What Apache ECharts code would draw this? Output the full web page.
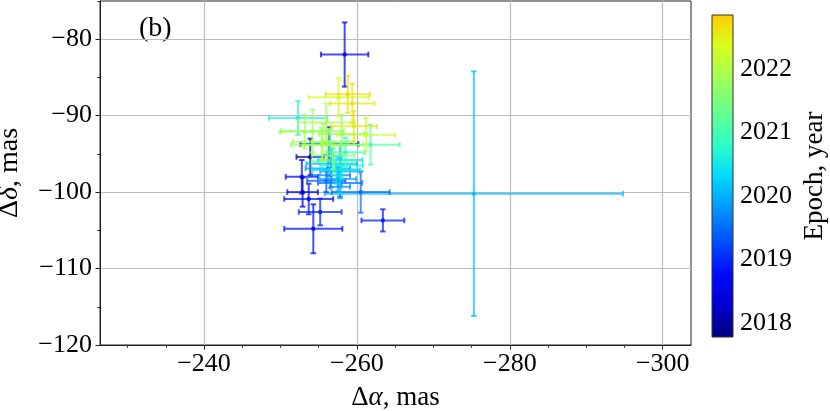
<!DOCTYPE html>
<html>
<head>
<meta charset="utf-8">
<script src="https://cdn.jsdelivr.net/npm/echarts@6/dist/echarts.min.js"></script>
<style>
  html, body { margin: 0; padding: 0; background: #fff; }
  #main { width: 830px; height: 411px; }
</style>
</head>
<body>
<div id="main"></div>
<script>
// measurements: [dRA, dDec, errRA, errDec, epoch]
var points = [
    [-258.4, -82.0, 3.1, 4.2, 2018.5],
    [-275.3, -100.2, 19.5, 16.0, 2020.1],
    [-263.4, -103.7, 2.8, 1.45, 2018.9],
    [-260.5, -100.0, 3.8, 2.7, 2019.5],
    [-253.9, -95.4, 1.8, 2.4, 2018.0],
    [-256.4, -93.7, 3.8, 2.2, 2018.4],
    [-252.8, -98.0, 2.1, 2.2, 2018.7],
    [-252.9, -100.0, 2.0, 1.9, 2018.3],
    [-253.7, -100.9, 3.2, 2.0, 2018.8],
    [-255.2, -102.6, 2.8, 1.75, 2019.0],
    [-254.3, -104.8, 3.8, 3.2, 2018.8],
    [-256.0, -98.5, 2.5, 1.5, 2019.3],
    [-257.8, -98.8, 2.9, 1.8, 2019.5],
    [-256.6, -97.8, 2.5, 1.6, 2019.6],
    [-257.8, -99.3, 1.3, 1.5, 2019.7],
    [-256.2, -96.9, 2.9, 1.8, 2019.8],
    [-257.8, -97.3, 2.6, 1.8, 2019.9],
    [-257.5, -98.3, 2.4, 1.6, 2019.9],
    [-256.7, -96.3, 3.3, 2.0, 2020.0],
    [-257.8, -95.8, 2.9, 2.0, 2020.3],
    [-257.8, -97.0, 2.2, 3.2, 2020.4],
    [-257.3, -97.1, 3.1, 1.8, 2020.4],
    [-258.0, -96.5, 2.8, 1.6, 2020.6],
    [-252.3, -90.3, 3.8, 2.2, 2020.7],
    [-258.5, -94.8, 2.5, 1.9, 2020.8],
    [-256.5, -93.5, 2.4, 1.8, 2021.0],
    [-261.8, -93.8, 3.8, 2.6, 2021.1],
    [-256.9, -96.0, 2.8, 1.7, 2021.2],
    [-256.9, -95.2, 2.8, 1.8, 2021.5],
    [-258.0, -92.4, 3.0, 2.5, 2021.6],
    [-255.4, -93.8, 2.5, 2.2, 2021.7],
    [-254.2, -92.0, 4.1, 2.8, 2021.8],
    [-256.1, -93.8, 4.7, 2.0, 2021.8],
    [-253.2, -92.1, 3.3, 2.2, 2021.8],
    [-256.0, -90.9, 3.7, 2.5, 2021.9],
    [-255.6, -93.4, 4.0, 2.3, 2021.9],
    [-261.2, -92.5, 3.8, 2.2, 2022.2],
    [-257.6, -87.6, 3.9, 2.5, 2022.3],
    [-259.6, -91.4, 3.0, 2.0, 2022.6],
    [-259.4, -88.4, 2.9, 2.6, 2022.6],
    [-258.8, -87.2, 2.9, 2.4, 2022.7]
];

var xRange = [-303.7, -226.4];
var yRange = [-120, -75];
var epochRange = [2017.78, 2022.85];

var xTicks = [-240, -260, -280, -300];
var xMinorTicks = [-230, -235, -245, -250, -255, -265, -270, -275, -285, -290, -295];
var yTicks = [-120, -110, -100, -90, -80];
var yMinorTicks = [-115, -105, -95, -85, -75];
var epochTicks = [2018, 2019, 2020, 2021, 2022];

// jet, cut at ~0.68
var jetColors = ['#000080', '#0000ce', '#000bff', '#0051ff', '#0096ff', '#00dbff',
                 '#30ffc7', '#67ff8f', '#a0ff57', '#d7ff1f', '#ffcc00'];

var FONT = '"Liberation Serif", "DejaVu Serif", serif';

function minus(v) {
    return String(v).replace('-', '\u2212');
}

function renderErrorBar(params, api) {
    var x = api.value(0), y = api.value(1), ex = api.value(2), ey = api.value(3);
    var c = api.coord([x, y]);
    var l = api.coord([x - ex, y]);
    var r = api.coord([x + ex, y]);
    var t = api.coord([x, y + ey]);
    var b = api.coord([x, y - ey]);
    var color = api.visual('color');
    var cap = 2.8;
    var st = { stroke: color, lineWidth: 2, opacity: 0.72 };
    return {
        type: 'group',
        children: [
            { type: 'line', shape: { x1: l[0], y1: l[1], x2: r[0], y2: r[1] }, style: st },
            { type: 'line', shape: { x1: t[0], y1: t[1], x2: b[0], y2: b[1] }, style: st },
            { type: 'line', shape: { x1: l[0], y1: l[1] - cap, x2: l[0], y2: l[1] + cap }, style: st },
            { type: 'line', shape: { x1: r[0], y1: r[1] - cap, x2: r[0], y2: r[1] + cap }, style: st },
            { type: 'line', shape: { x1: t[0] - cap, y1: t[1], x2: t[0] + cap, y2: t[1] }, style: st },
            { type: 'line', shape: { x1: b[0] - cap, y1: b[1], x2: b[0] + cap, y2: b[1] }, style: st },
            { type: 'circle', shape: { cx: c[0], cy: c[1], r: 2.2 }, style: { fill: color, opacity: 0.85 } }
        ]
    };
}

function renderColorbar(params, api) {
    var p0 = api.coord([0, api.value(1)]);
    var p1 = api.coord([1, api.value(0)]);
    var stops = jetColors.map(function (c, i) {
        return { offset: 1 - i / (jetColors.length - 1), color: c };
    });
    return {
        type: 'rect',
        shape: { x: p0[0], y: p0[1], width: p1[0] - p0[0], height: p1[1] - p0[1] },
        style: {
            fill: new echarts.graphic.LinearGradient(0, 0, 0, 1, stops),
            stroke: '#333',
            lineWidth: 1
        }
    };
}

var chart = echarts.init(document.getElementById('main'));

var tickLabel = { fontFamily: FONT, fontSize: 26, color: '#000' };

var option = {
    animation: false,
    textStyle: { fontFamily: FONT },
    grid: [
        { left: 100, right: 139, top: 1, bottom: 66, show: true, borderColor: '#222', borderWidth: 1,
          outerBoundsMode: 'none', containLabel: false },
        { left: 712, top: 15, width: 21, height: 322, outerBoundsMode: 'none', containLabel: false }
    ],
    xAxis: [
        {
            type: 'value', gridIndex: 0, min: xRange[0], max: xRange[1], inverse: true, position: 'bottom',
            axisLine: { show: true, lineStyle: { color: '#222', width: 1 } },
            axisTick: { show: true, length: 4.5, customValues: xTicks, lineStyle: { color: '#222' } },
            axisLabel: Object.assign({ margin: 6, formatter: minus, customValues: xTicks }, tickLabel),
            splitLine: { show: true, lineStyle: { color: '#bdbdbd', width: 1.2 } },
            name: '{n|\u0394}{i|\u03b1}{n|, mas}',
            nameLocation: 'middle', nameGap: 39,
            nameTextStyle: {
                rich: {
                    n: { fontFamily: FONT, fontSize: 27, color: '#000' },
                    i: { fontFamily: FONT, fontSize: 27, fontStyle: 'italic', color: '#000' }
                }
            }
        },
        {
            type: 'value', gridIndex: 0, min: xRange[0], max: xRange[1], inverse: true, position: 'bottom',
            axisLine: { show: false },
            axisTick: { show: true, length: 2.6, customValues: xMinorTicks, lineStyle: { color: '#222' } },
            axisLabel: { show: false },
            splitLine: { show: false }
        },
        { type: 'value', gridIndex: 1, min: 0, max: 1, show: false }
    ],
    yAxis: [
        {
            type: 'value', gridIndex: 0, min: yRange[0], max: yRange[1], position: 'left',
            axisLine: { show: true, lineStyle: { color: '#222', width: 1 } },
            axisTick: { show: true, length: 4.5, customValues: yTicks, lineStyle: { color: '#222' } },
            axisLabel: Object.assign({ margin: 8, formatter: minus, customValues: yTicks }, tickLabel),
            splitLine: { show: true, lineStyle: { color: '#bdbdbd', width: 1.2 } },
            name: '{n|\u0394}{i|\u03b4}{n|, mas}',
            nameLocation: 'middle', nameGap: 76, nameRotate: 90,
            nameTextStyle: {
                rich: {
                    n: { fontFamily: FONT, fontSize: 28, color: '#000' },
                    i: { fontFamily: FONT, fontSize: 28, fontStyle: 'italic', color: '#000' }
                }
            }
        },
        {
            type: 'value', gridIndex: 0, min: yRange[0], max: yRange[1], position: 'left',
            axisLine: { show: false },
            axisTick: { show: true, length: 2.6, customValues: yMinorTicks, lineStyle: { color: '#222' } },
            axisLabel: { show: false },
            splitLine: { show: false }
        },
        {
            type: 'value', gridIndex: 1, min: epochRange[0], max: epochRange[1], position: 'right',
            axisLine: { show: false },
            axisTick: { show: true, length: 4.5, customValues: epochTicks, lineStyle: { color: '#222' } },
            axisLabel: Object.assign({ margin: 7, customValues: epochTicks,
                formatter: function (v) { return String(v); } }, tickLabel),
            splitLine: { show: false },
            name: 'Epoch, year',
            nameLocation: 'middle', nameGap: 68, nameRotate: 90,
            nameTextStyle: { fontFamily: FONT, fontSize: 27, color: '#000' }
        }
    ],
    visualMap: {
        show: false, type: 'continuous', dimension: 4, seriesIndex: 0,
        min: epochRange[0], max: epochRange[1],
        inRange: { color: jetColors }
    },
    graphic: [
        { type: 'text', left: 139, top: 15, style: { text: '(b)', font: '28px ' + FONT, fill: '#000' } }
    ],
    series: [
        {
            type: 'custom', xAxisIndex: 0, yAxisIndex: 0,
            renderItem: renderErrorBar, data: points, clip: true,
            encode: { x: [0, 2], y: [1, 3] }
        },
        {
            type: 'custom', xAxisIndex: 2, yAxisIndex: 2,
            renderItem: renderColorbar, data: [epochRange],
            encode: { y: [0, 1] }
        }
    ]
};

chart.setOption(option);
</script>
</body>
</html>
